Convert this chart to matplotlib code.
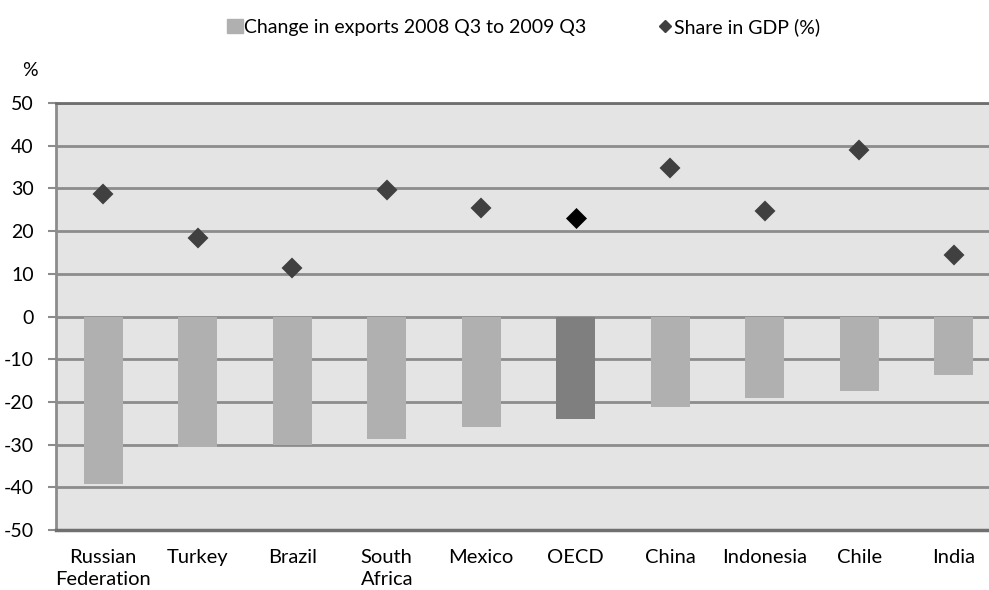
import numpy as np
import matplotlib.pyplot as plt
from matplotlib.lines import Line2D
from matplotlib.patches import Patch

plt.rcParams['font.family'] = ['Lato', 'DejaVu Sans']

# datos del grafico
paises = ['Russian\nFederation', 'Turkey', 'Brazil', 'South\nAfrica', 'Mexico',
          'OECD', 'China', 'Indonesia', 'Chile', 'India']
cambio_export = [-39.3, -30.5, -30.0, -28.6, -25.8, -23.9, -21.1, -19.2, -17.4, -13.6]
peso_pib = [28.7, 18.4, 11.3, 29.6, 25.4, 23.0, 34.7, 24.8, 39.0, 14.5]
yticks = [50, 40, 30, 20, 10, 0, -10, -20, -30, -40, -50]

x = np.arange(len(paises))
es_oecd = [p == 'OECD' for p in paises]

fig = plt.figure(figsize=(9.89, 5.9), dpi=100)
ax = fig.add_axes([56/989, 60/590, 945/989, 427/590])
ax.set_facecolor('#e4e4e4')

# barras: cambio en exportaciones
colores = ['#7f7f7f' if o else '#b0b0b0' for o in es_oecd]
ax.bar(x, cambio_export, width=0.41, color=colores, zorder=3)

# rombos: peso en el PIB
for xi, v, o in zip(x, peso_pib, es_oecd):
    if o:
        ax.plot(xi, v, marker='D', markersize=10, color='black',
                markeredgewidth=0.5, zorder=4)
    else:
        ax.plot(xi, v, marker='D', markersize=9.5, color='#404040',
                markeredgewidth=1.5, markeredgecolor='#404040', zorder=4)

ax.set_xlim(-0.5, len(paises) - 0.5)
ax.set_ylim(-50, 50)
ax.set_yticks(yticks)
ax.set_yticklabels([str(t) for t in yticks], fontsize=14)
ax.set_xticks(x)
ax.set_xticklabels(paises, fontsize=14.5, linespacing=1.3)
ax.tick_params(axis='x', length=0, pad=14)
ax.tick_params(axis='y', length=6, color='#8c8c8c', width=1.5, pad=10)

ax.grid(axis='y', color='#8c8c8c', linewidth=2, zorder=1)
ax.set_axisbelow(True)
ax.spines['right'].set_visible(False)
ax.spines['top'].set_color('#6e6e6e')
ax.spines['top'].set_linewidth(2)
ax.spines['left'].set_color('#8c8c8c')
ax.spines['left'].set_linewidth(2)
ax.spines['bottom'].set_color('#707070')
ax.spines['bottom'].set_linewidth(2.5)

fig.text(30/989, 1 - 71/590, '%', fontsize=14, ha='center', va='center')

handles = [Patch(color='#b0b0b0'),
           Line2D([], [], marker='D', color='#404040', linestyle='none', markersize=6)]
fig.legend(handles, ['Change in exports 2008 Q3 to 2009 Q3', 'Share in GDP (%)'],
           loc='center left', bbox_to_anchor=(227/989, 1 - 27/590), ncol=2, frameon=False,
           fontsize=14, handlelength=0.8, handleheight=0.75, handletextpad=0.1,
           columnspacing=3.6, borderpad=0, borderaxespad=0)

fig.savefig('out.png', dpi=100)
